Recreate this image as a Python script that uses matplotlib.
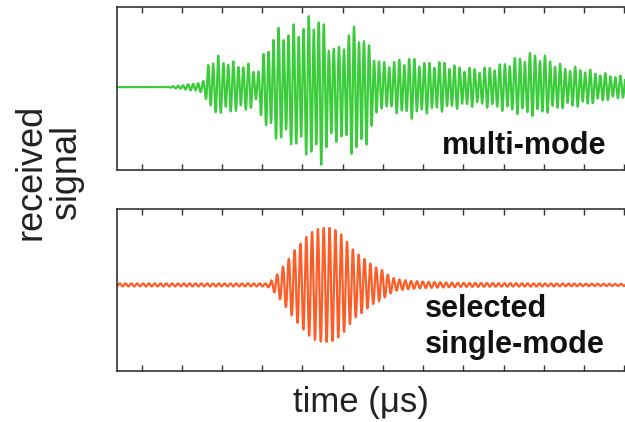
import numpy as np
import matplotlib
matplotlib.use('Agg')
import matplotlib.pyplot as plt

plt.rcParams['font.family'] = ['Liberation Sans', 'DejaVu Sans']

# envelope of the multi-mode trace (time in tick units, amplitude)
top_t = [-0.6, 0.6, 0.8, 1.2, 1.57, 1.65, 1.87, 2.3, 2.7, 2.87, 3.02, 3.3, 3.7, 3.95,
         4.3, 4.45, 4.65, 4.9, 5.15, 5.35, 5.5, 5.75, 5.95, 6.3, 6.7, 7.05, 7.5, 7.9,
         8.4, 8.9, 9.4, 9.8, 10.15, 10.5, 10.9, 11.4, 12.05]
top_upper = [0, 0, 1, 3, 6, 25, 30, 24, 22, 14, 30, 55, 58, 62, 71, 70, 45, 38, 55, 60,
             50, 35, 24, 26, 29, 24, 25, 20, 18, 22, 30, 34, 28, 20, 19, 14, 10]
top_lower = [0, 0, 1, 3, 6, 22, 26, 24, 22, 14, 35, 50, 55, 62, 70, 76, 60, 50, 62, 66,
             63, 40, 20, 24, 30, 25, 23, 20, 18, 22, 26, 28, 24, 20, 19, 14, 10]

# envelope of the selected single-mode trace
bot_t = [-0.61, 3.09, 3.19, 3.36, 3.49, 3.64, 3.81, 3.99, 4.14, 4.31, 4.49, 4.68, 4.81,
         4.98, 5.13, 5.3, 5.48, 5.63, 5.8, 5.98, 6.13, 6.3, 6.67, 7.17, 7.92, 12.05]
bot_env = [1.5, 1.5, 3, 10, 17, 25, 35, 43, 50, 55, 57, 57, 55, 50, 42, 33, 28, 23, 18,
           15, 10, 6, 4, 3, 2, 1]

f_main = 8.0     # cycles per tick, multi-mode
f_second = 5.3
f_single = 6.9   # cycles per tick, single-mode

t = np.linspace(-0.62, 12.05, 6000)

up = np.interp(t, top_t, top_upper)
lo = np.interp(t, top_t, top_lower)
carrier = (np.sin(2 * np.pi * f_main * t) + 0.15 * np.sin(2 * np.pi * f_second * t + 1.0)) / 1.08
green = np.where(carrier >= 0, up * carrier, lo * carrier)

orange = np.interp(t, bot_t, bot_env) * np.sin(2 * np.pi * f_single * t)

fig = plt.figure(figsize=(6.25, 4.22), dpi=100)
ax1 = fig.add_axes([0.187, 0.597, 0.813, 0.386])
ax2 = fig.add_axes([0.187, 0.121, 0.813, 0.384])

ax1.plot(t, green, color='#3acc3a', lw=1.6)
ax2.plot(t, orange, color='#ff5c26', lw=1.6)

ax1.set_ylim(-83, 80)
ax2.set_ylim(-86, 76)

for ax in (ax1, ax2):
    ax.set_xlim(-0.614, 12.02)
    ax.set_xticks(range(0, 13))
    ax.set_yticks([])
    ax.tick_params(axis='x', direction='in', top=True, bottom=True,
                   labelbottom=False, length=4, width=1.0, color='#333333')
    ax.spines['right'].set_visible(False)
    for s in ('left', 'top', 'bottom'):
        ax.spines[s].set_linewidth(1.2)
        ax.spines[s].set_color('#333333')

fig.text(0.707, 0.635, 'multi-mode', fontsize=22, fontweight='bold',
         ha='left', va='baseline', color='#111111')
fig.text(0.68, 0.2488, 'selected', fontsize=22, fontweight='bold',
         ha='left', va='baseline', color='#111111')
fig.text(0.68, 0.1635, 'single-mode', fontsize=22, fontweight='bold',
         ha='left', va='baseline', color='#111111')

fig.text(0.578, 1 - 412 / 422, 'time (\u03bcs)', fontsize=25,
         ha='center', va='baseline', color='#222222')
fig.text(0.078, 1 - 172 / 422, 'received\nsignal', fontsize=26, rotation=90,
         ha='center', va='center', multialignment='center', linespacing=1.0,
         color='#222222')

fig.savefig('out.png', dpi=100)
